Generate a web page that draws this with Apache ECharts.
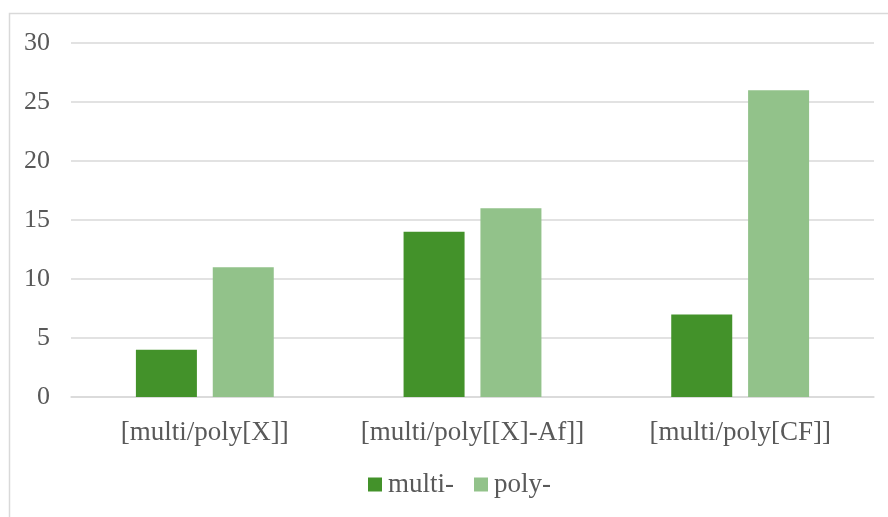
<!DOCTYPE html>
<html>
<head>
<meta charset="utf-8">
<script src="https://cdn.jsdelivr.net/npm/echarts@6/dist/echarts.min.js"></script>
<style>
  html, body { margin: 0; padding: 0; background: #fff; }
  #chart { width: 888px; height: 517px; }
</style>
</head>
<body>
<div id="chart"></div>
<script>
// Categories and series values
const categories = ['[multi/poly[X]]', '[multi/poly[[X]-Af]]', '[multi/poly[CF]]'];
const multiValues = [4, 14, 7];
const polyValues = [11, 16, 26];
const seriesNames = ['multi-', 'poly-'];

const textColor = '#595959';
const fontFamily = '"Liberation Serif", "Times New Roman", serif';

const chart = echarts.init(document.getElementById('chart'));
chart.setOption({
  animation: false,
  backgroundColor: '#ffffff',
  graphic: [{
    type: 'rect',
    shape: { x: 9.5, y: 13.5, width: 900, height: 600 },
    style: { fill: 'none', stroke: '#d9d9d9', lineWidth: 1.5 },
    silent: true,
    z: -1
  }],
  grid: { left: 71, right: 14, top: 43, bottom: 120 },
  legend: {
    bottom: 14,
    left: 363,
    itemWidth: 14,
    itemHeight: 14,
    itemGap: 20,
    icon: 'rect',
    textStyle: { color: textColor, fontFamily: fontFamily, fontSize: 27, padding: [0, 0, 0, 1] },
    data: seriesNames
  },
  xAxis: {
    type: 'category',
    data: categories,
    axisLine: { lineStyle: { color: '#d9d9d9', width: 1.5 } },
    axisTick: { show: false },
    axisLabel: { color: textColor, fontFamily: fontFamily, fontSize: 27, margin: 22, interval: 0 }
  },
  yAxis: {
    type: 'value',
    min: 0,
    max: 30,
    interval: 5,
    axisLine: { show: false },
    axisTick: { show: false },
    splitLine: { lineStyle: { color: '#d9d9d9', width: 1.5 } },
    axisLabel: { color: textColor, fontFamily: fontFamily, fontSize: 26, margin: 21 }
  },
  series: [
    {
      name: seriesNames[0],
      type: 'bar',
      data: multiValues,
      barWidth: 61,
      barGap: '26%',
      itemStyle: { color: '#43922A' }
    },
    {
      name: seriesNames[1],
      type: 'bar',
      data: polyValues,
      barWidth: 61,
      barGap: '26%',
      itemStyle: { color: '#92C28A' }
    }
  ]
});
</script>
</body>
</html>
